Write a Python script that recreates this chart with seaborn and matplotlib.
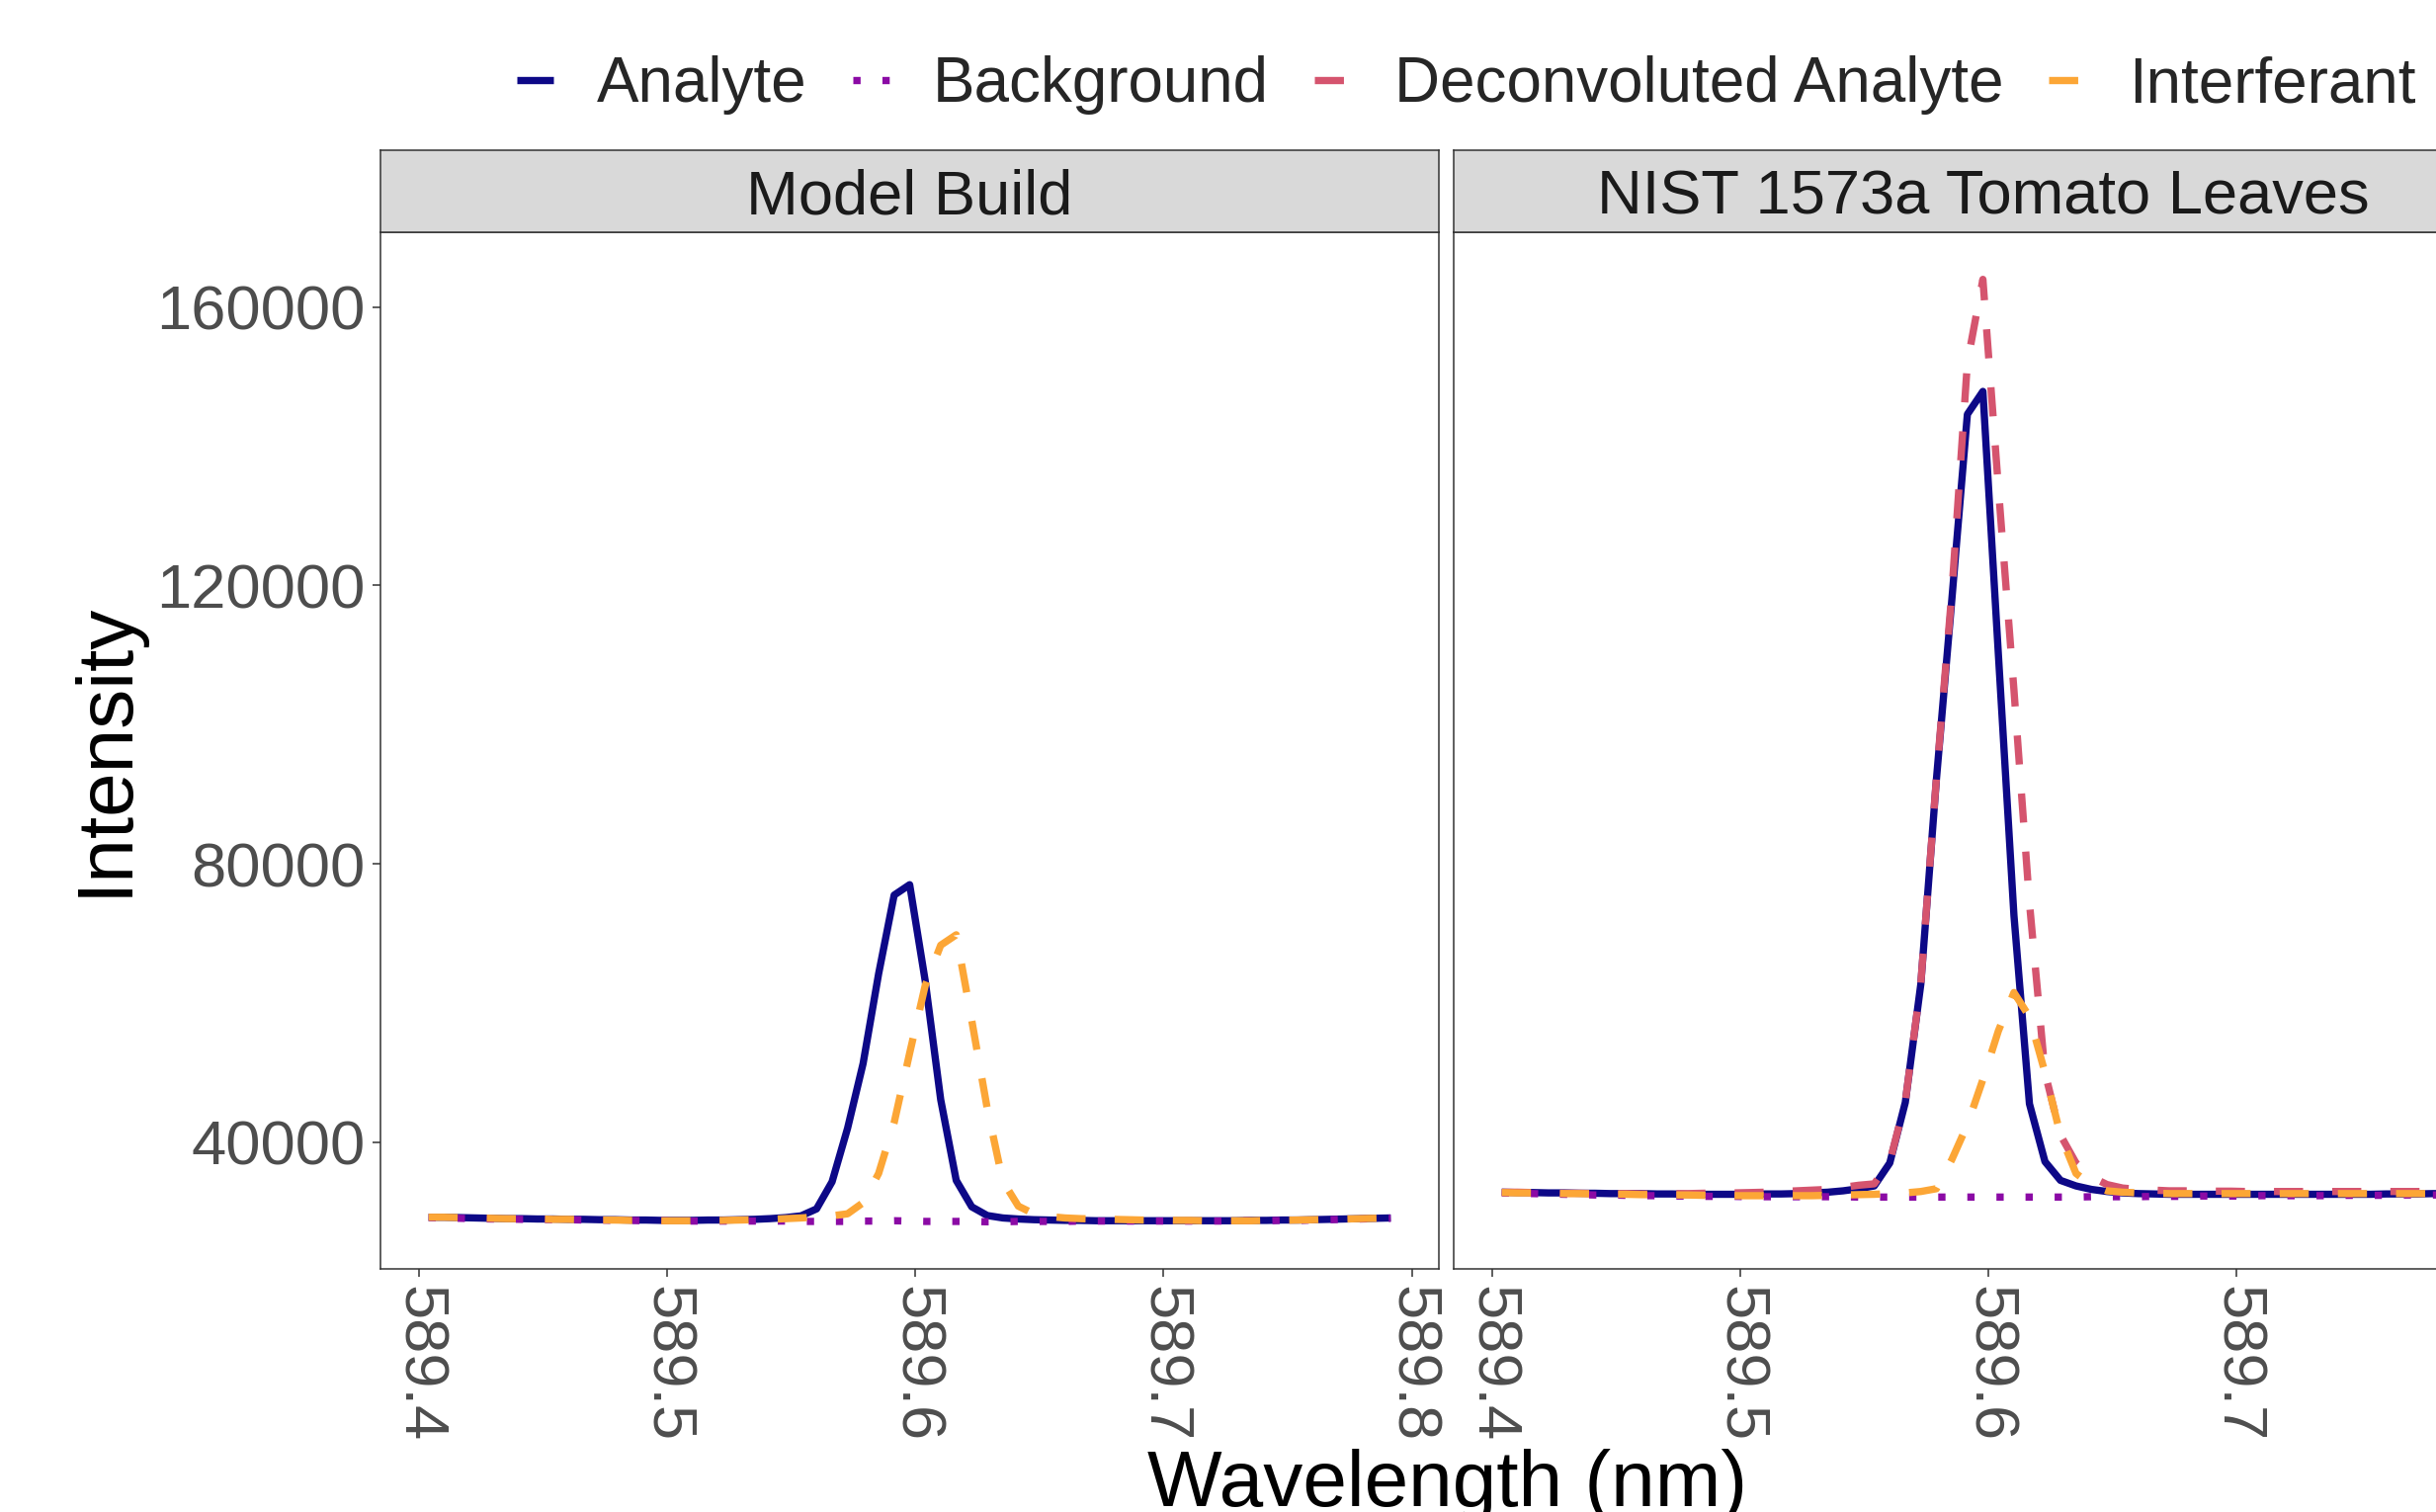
import numpy as np
import pandas as pd
import matplotlib
matplotlib.use("Agg")
import matplotlib.pyplot as plt
from matplotlib.lines import Line2D
import seaborn as sns

# ---------------------------------------------------------------- data
# Spectrometer pixel grid around the Na 589.6 nm line
wl_start = 589.404
wl_step = 0.00625
n_pixels = 63
wavelength = wl_start + wl_step * np.arange(n_pixels)

components = ["Analyte", "Background", "Deconvoluted Analyte", "Interferant"]
samples = ["Model Build", "NIST 1573a Tomato Leaves"]

# Model Build
model_analyte = [
    29200, 29200, 29150, 29100, 29050, 29000, 29000, 28950, 28950, 28900,
    28900, 28850, 28850, 28800, 28800, 28750, 28750, 28750, 28800, 28800,
    28850, 28900, 29000, 29150, 29400, 30400, 34300, 42000, 51300, 64200,
    75500, 77000, 63200, 46100, 34500, 30700, 29450, 29100, 28950, 28850,
    28800, 28750, 28750, 28700, 28700, 28700, 28700, 28700, 28700, 28700,
    28700, 28700, 28700, 28750, 28750, 28800, 28800, 28850, 28900, 28950,
    29000, 29050, 29100]
model_background = [
    29150, 29100, 29050, 29000, 28950, 28950, 28900, 28900, 28850, 28850,
    28800, 28800, 28750, 28750, 28700, 28700, 28700, 28650, 28650, 28650,
    28650, 28650, 28650, 28650, 28600, 28600, 28600, 28600, 28650, 28650,
    28700, 28650, 28600, 28600, 28600, 28600, 28550, 28550, 28600, 28600,
    28600, 28600, 28650, 28650, 28650, 28650, 28650, 28650, 28650, 28650,
    28650, 28650, 28700, 28700, 28700, 28750, 28750, 28800, 28850, 28900,
    28950, 29000, 29050]
model_interferant = [
    29200, 29200, 29150, 29100, 29050, 29000, 29000, 28950, 28900, 28900,
    28850, 28800, 28800, 28750, 28750, 28700, 28700, 28700, 28700, 28750,
    28800, 28850, 28900, 29000, 29100, 29250, 29400, 29700, 31300, 35500,
    42800, 52800, 62500, 68300, 69800, 57500, 44800, 34400, 30800, 29700,
    29300, 29100, 29000, 28950, 28900, 28850, 28800, 28800, 28750, 28750,
    28700, 28700, 28700, 28700, 28750, 28750, 28800, 28850, 28900, 28950,
    29000, 29050, 29100]

# NIST 1573a Tomato Leaves
nist_analyte = [
    32800, 32750, 32750, 32700, 32700, 32650, 32650, 32600, 32600, 32600,
    32550, 32550, 32500, 32500, 32500, 32500, 32500, 32550, 32550, 32600,
    32700, 32800, 33000, 33300, 33700, 37000, 45700, 62700, 92000, 118000,
    144600, 147900, 110000, 72600, 45500, 37200, 34500, 33700, 33200, 32900,
    32700, 32600, 32550, 32500, 32500, 32500, 32500, 32500, 32500, 32500,
    32500, 32500, 32500, 32500, 32500, 32500, 32500, 32550, 32550, 32550,
    32600, 32600, 32600]
nist_background = [
    32700, 32650, 32600, 32550, 32500, 32450, 32400, 32400, 32350, 32300,
    32300, 32250, 32250, 32200, 32200, 32200, 32150, 32150, 32150, 32150,
    32150, 32150, 32150, 32100, 32100, 32100, 32100, 32100, 32100, 32100,
    32100, 32100, 32100, 32100, 32100, 32100, 32100, 32100, 32150, 32150,
    32150, 32150, 32200, 32200, 32200, 32250, 32250, 32250, 32250, 32300,
    32300, 32300, 32300, 32300, 32350, 32350, 32350, 32350, 32400, 32400,
    32400, 32400, 32450]
nist_deconvoluted = [
    32800, 32800, 32750, 32700, 32650, 32650, 32600, 32600, 32600, 32550,
    32550, 32600, 32600, 32650, 32700, 32700, 32750, 32800, 32900, 33000,
    33100, 33200, 33500, 33800, 34000, 37200, 45800, 62800, 92200, 119000,
    152000, 164000, 134000, 105000, 74400, 50000, 41000, 37000, 35000, 33900,
    33400, 33200, 33100, 33000, 33000, 32950, 32950, 32950, 32900, 32900,
    32900, 32900, 32900, 32900, 32900, 32900, 32900, 32900, 32900, 32900,
    32900, 32900, 32900]
nist_interferant = [
    32750, 32700, 32700, 32650, 32600, 32600, 32550, 32500, 32500, 32450,
    32450, 32400, 32400, 32350, 32350, 32300, 32300, 32300, 32300, 32300,
    32300, 32350, 32400, 32450, 32500, 32600, 32700, 32900, 33300, 37500,
    42500, 49000, 56000, 61500, 58000, 50000, 41000, 35500, 33800, 33000,
    32800, 32700, 32650, 32600, 32600, 32600, 32600, 32600, 32600, 32600,
    32600, 32600, 32600, 32600, 32600, 32600, 32600, 32600, 32600, 32600,
    32600, 32600, 32600]

x_ticks = [589.4, 589.5, 589.6, 589.7, 589.8]
x_tick_labels = ["589.4", "589.5", "589.6", "589.7", "589.8"]
y_ticks = [40000, 80000, 120000, 160000]
y_tick_labels = ["40000", "80000", "120000", "160000"]

series = {
    ("Model Build", "Analyte"): model_analyte,
    ("Model Build", "Background"): model_background,
    ("Model Build", "Interferant"): model_interferant,
    ("NIST 1573a Tomato Leaves", "Analyte"): nist_analyte,
    ("NIST 1573a Tomato Leaves", "Background"): nist_background,
    ("NIST 1573a Tomato Leaves", "Deconvoluted Analyte"): nist_deconvoluted,
    ("NIST 1573a Tomato Leaves", "Interferant"): nist_interferant,
}

frames = []
for (sample, comp), vals in series.items():
    frames.append(pd.DataFrame({
        "Wavelength": wavelength,
        "Intensity": vals,
        "Component": comp,
        "Sample": sample,
    }))
df = pd.concat(frames, ignore_index=True)

# ---------------------------------------------------------------- style
sns.set_theme(style="white")
plt.rcParams["font.family"] = ["Liberation Sans", "DejaVu Sans"]
plt.rcParams["lines.solid_capstyle"] = "butt"
plt.rcParams["lines.dash_capstyle"] = "butt"

PALETTE = {
    "Analyte": "#0D0887",
    "Background": "#8B0AA5",
    "Deconvoluted Analyte": "#D5546E",
    "Interferant": "#FCA636",
}
DASHES = {
    "Analyte": "",
    "Background": (1, 3),
    "Deconvoluted Analyte": (4, 4),
    "Interferant": (4, 4),
}
LW = 5.3
TICK_FS = 45.5
LEGEND_FS = 45.95
TITLE_FS = 57.7
BORDER = "#333333"

W, H = 2465, 1530
fig = plt.figure(figsize=(W / 100, H / 100), dpi=100)
fig.patch.set_facecolor("white")


def fx(px):
    return px / W


def fy(py):
    return 1 - py / H


panel_w = 1071
panel_top, panel_bot = 235, 1284
strip_top = 152
lefts = [385, 1471]

# shared limits with 5% expansion, as in a faceted plot with fixed scales
xmin, xmax = float(np.min(wavelength)), float(np.max(wavelength))
xr = xmax - xmin
ymin, ymax = df["Intensity"].min(), df["Intensity"].max()
yr = ymax - ymin
xlim = (xmin - 0.05 * xr, xmax + 0.05 * xr)
ylim = (ymin - 0.05 * yr, ymax + 0.05 * yr)

for k, (sample, left) in enumerate(zip(samples, lefts)):
    ax = fig.add_axes([fx(left), fy(panel_bot), panel_w / W,
                       (panel_bot - panel_top) / H])
    sub = df[df["Sample"] == sample]
    present = [c for c in components if c in set(sub["Component"])]
    sns.lineplot(data=sub, x="Wavelength", y="Intensity",
                 hue="Component", style="Component",
                 hue_order=present, style_order=present,
                 palette=PALETTE, dashes=DASHES, linewidth=LW,
                 estimator=None, errorbar=None, sort=False,
                 legend=False, ax=ax)
    ax.set_xlim(*xlim)
    ax.set_ylim(*ylim)
    ax.set_xlabel("")
    ax.set_ylabel("")
    ax.set_facecolor("white")
    for sp in ax.spines.values():
        sp.set_color(BORDER)
        sp.set_linewidth(1.1)
        sp.set_visible(True)
    ax.set_xticks(x_ticks)
    ax.set_xticklabels(x_tick_labels)
    ax.tick_params(axis="x", which="major", bottom=True, length=6,
                   width=1.1, color=BORDER, labelsize=TICK_FS,
                   labelcolor="#4D4D4D", labelrotation=-90, pad=6)
    ax.set_yticks(y_ticks)
    if k == 0:
        ax.set_yticklabels(y_tick_labels)
        ax.tick_params(axis="y", which="major", left=True, length=6,
                       width=1.1, color=BORDER, labelsize=TICK_FS,
                       labelcolor="#4D4D4D", pad=5)
    else:
        ax.tick_params(axis="y", left=False, labelleft=False)
    ax.grid(False)

    # facet strip
    sax = fig.add_axes([fx(left), fy(panel_top), panel_w / W,
                        (panel_top - strip_top) / H])
    sax.set_facecolor("#D9D9D9")
    sax.set_xticks([])
    sax.set_yticks([])
    for sp in sax.spines.values():
        sp.set_color(BORDER)
        sp.set_linewidth(1.1)
    sax.text(0.5, 0.5, sample, transform=sax.transAxes, ha="center",
             va="center_baseline", fontsize=TICK_FS, color="#1A1A1A")

# axis titles
fig.text(fx(107), fy(758), "Intensity", rotation=90, ha="center",
         va="center", fontsize=TITLE_FS, color="black")
fig.text(fx(1465), fy(1524), "Wavelength (nm)", ha="center",
         va="baseline", fontsize=TITLE_FS, color="black")

# legend across the top
handles = []
for c in components:
    if DASHES[c] == "":
        h = Line2D([], [], color=PALETTE[c], linewidth=LW, linestyle="-")
    else:
        h = Line2D([], [], color=PALETTE[c], linewidth=LW,
                   dashes=DASHES[c])
    handles.append(h)
fig.legend(handles, components, loc="center left",
           bbox_to_anchor=(fx(523), fy(86)), ncol=4, frameon=False,
           fontsize=LEGEND_FS, handlelength=0.58, handletextpad=0.69,
           columnspacing=0.72, borderpad=0, borderaxespad=0)

fig.savefig("out.png", dpi=100, facecolor="white")
